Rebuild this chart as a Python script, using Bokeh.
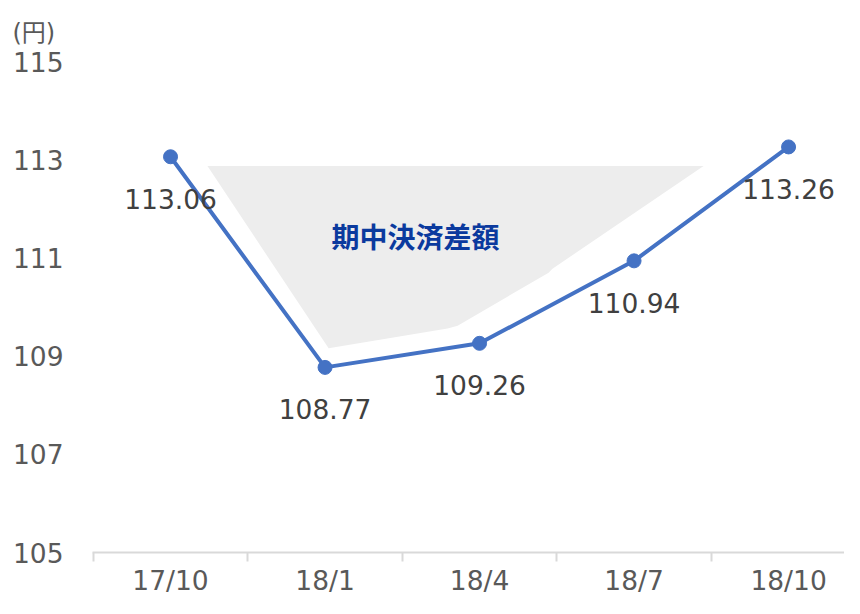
from bokeh.plotting import figure
from bokeh.models import (Range1d, FixedTicker, LinearAxis, ColumnDataSource,
                          LabelSet)
from bokeh.core.properties import value
from bokeh.embed import file_html
from bokeh.resources import INLINE

# ---- data ----
categories = ["17/10", "18/1", "18/4", "18/7", "18/10"]
rates = [113.06, 108.77, 109.26, 110.94, 113.26]
rate_labels = ["113.06", "108.77", "109.26", "110.94", "113.26"]
y_ticks = [105, 107, 109, 111, 113, 115]
unit_text = "(円)"
area_text = "期中決済差額"
# shaded area outline (category-index, yen)
area_x = [0.239, 3.450, 2.472, 2.447, 1.858, 1.793, 1.023]
area_y = [112.87, 112.87, 110.78, 110.70, 109.62, 109.56, 109.16]

xs = list(range(len(categories)))
num_font = value("DejaVu Sans")

p = figure(width=844, height=598, output_backend="svg", toolbar_location=None,
           x_range=Range1d(-0.505, 4.362), y_range=Range1d(105, 115),
           x_axis_type=None, y_axis_type=None,
           min_border_left=92, min_border_right=0, min_border_top=61,
           min_border_bottom=30)
p.outline_line_color = None
p.xgrid.visible = False
p.ygrid.visible = False
p.background_fill_color = "white"
p.border_fill_color = "white"

# unit label as title
p.title.text = unit_text
p.title.align = "left"
p.title.offset = -80
p.title.standoff = 30
p.title.text_font = "DejaVu Sans, Noto Sans CJK JP"
p.title.text_font_size = "24px"
p.title.text_font_style = "normal"
p.title.text_color = "#595959"

# x axis
xa = LinearAxis(ticker=FixedTicker(ticks=xs, minor_ticks=[i - 0.5 for i in xs]))
xa.major_label_overrides = {i: c for i, c in enumerate(categories)}
xa.axis_line_color = "#D9D9D9"
xa.axis_line_width = 2
xa.major_tick_line_color = None
xa.major_tick_out = 0
xa.major_tick_in = 0
xa.minor_tick_line_color = "#D9D9D9"
xa.minor_tick_line_width = 2
xa.minor_tick_out = 9
xa.minor_tick_in = 0
xa.major_label_standoff = 3
xa.major_label_text_font = "DejaVu Sans"
xa.major_label_text_font_size = "26.5px"
xa.major_label_text_color = "#595959"
p.add_layout(xa, "below")

# y axis
ya = LinearAxis(ticker=FixedTicker(ticks=y_ticks))
ya.axis_line_color = None
ya.major_tick_line_color = None
ya.minor_tick_line_color = None
ya.major_label_standoff = 23
ya.major_label_text_font = "DejaVu Sans"
ya.major_label_text_font_size = "26.5px"
ya.major_label_text_color = "#595959"
p.add_layout(ya, "left")

# shaded area
p.patch(area_x, area_y, fill_color="#EDEDED", line_color=None)
p.text(x=[1.586], y=[111.45], text=[area_text], text_align="center",
       text_baseline="middle", text_font=value("Noto Sans CJK JP"),
       text_font_style="bold", text_font_size="28px", text_color="#0B3A9E")

src = ColumnDataSource(dict(x=xs, y=rates, lab=rate_labels))
p.line("x", "y", source=src, line_color="#4472C4", line_width=4)
p.scatter("x", "y", source=src, size=14, fill_color="#4472C4",
          line_color="#4472C4")

labels = LabelSet(x="x", y="y", text="lab", source=src, y_offset=-42,
                  text_align="center", text_baseline="middle",
                  text_font=num_font, text_font_size="26.5px",
                  text_color="#404040")
p.add_layout(labels)

open("out.html", "w").write(file_html(p, INLINE))
